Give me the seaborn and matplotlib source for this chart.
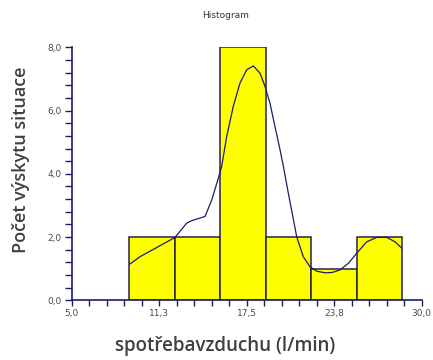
import matplotlib
matplotlib.use("Agg")
import matplotlib.pyplot as plt
from matplotlib.ticker import FixedLocator, MultipleLocator, FuncFormatter
import seaborn as sns
import pandas as pd

# Histogram bins (air consumption, l/min) and counts per bin
bin_edges = [9.1, 12.35, 15.6, 18.85, 22.1, 25.35, 28.6]
bin_counts = [2, 2, 8, 2, 1, 2]

# Smoothed frequency curve drawn over the bars
curve_x = [9.17, 9.88, 10.83, 12.38, 13.21, 13.57, 14.52, 15.0, 15.47, 15.71,
           16.07, 16.54, 17.02, 17.5, 17.97, 18.45, 18.81, 19.16, 19.52, 19.88,
           20.12, 20.47, 21.07, 21.54, 22.02, 22.5, 23.1, 23.6, 24.16, 24.76,
           25.36, 26.07, 26.79, 27.5, 28.09, 28.57]
curve_y = [1.15, 1.38, 1.61, 1.99, 2.44, 2.52, 2.65, 3.17, 3.86, 4.23,
           5.18, 6.13, 6.87, 7.29, 7.41, 7.18, 6.76, 6.23, 5.49, 4.76,
           4.23, 3.39, 2.01, 1.38, 1.06, 0.92, 0.87, 0.88, 0.96, 1.17,
           1.49, 1.85, 1.99, 1.99, 1.85, 1.65]

x_major = [5.0, 11.25, 17.5, 23.75, 30.0]
x_labels = ["5,0", "11,3", "17,5", "23,8", "30,0"]
y_major = [0.0, 2.0, 4.0, 6.0, 8.0]

navy = "#1c1c6a"
edge = "#23234a"

sns.set_style("white")
plt.rcParams["font.family"] = ["DejaVu Sans"]

fig = plt.figure(figsize=(4.33, 3.6), dpi=100)
ax = fig.add_axes([0.1656, 0.1658, 0.8084, 0.7028])

centers = [(a + b) / 2 for a, b in zip(bin_edges[:-1], bin_edges[1:])]
df = pd.DataFrame({"x": centers, "n": bin_counts})
sns.histplot(data=df, x="x", weights="n", bins=bin_edges, ax=ax,
             color="#ffff00", alpha=1.0, edgecolor=edge, linewidth=1.1)

curve = pd.DataFrame({"x": curve_x, "y": curve_y})
sns.lineplot(data=curve, x="x", y="y", sort=False, ax=ax,
             color=navy, linewidth=0.9)

ax.set_xlim(5, 30)
ax.set_ylim(0, 8)

ax.xaxis.set_major_locator(FixedLocator(x_major))
ax.set_xticklabels(x_labels)
ax.xaxis.set_minor_locator(MultipleLocator(1.25))
ax.yaxis.set_major_locator(FixedLocator(y_major))
ax.yaxis.set_minor_locator(MultipleLocator(0.4))
ax.yaxis.set_major_formatter(FuncFormatter(lambda v, p: f"{v:.1f}".replace(".", ",")))

ax.tick_params(axis="both", which="both", direction="out", width=1,
               color=navy, labelsize=6.5, labelcolor="#4a4a4a")
ax.tick_params(axis="x", which="both", length=4, pad=2)
ax.tick_params(axis="y", which="both", length=5, pad=2)
ax.tick_params(axis="both", which="both", bottom=True, left=True)

for side in ["top", "right"]:
    ax.spines[side].set_visible(False)
for side in ["left", "bottom"]:
    ax.spines[side].set_color(navy)
    ax.spines[side].set_linewidth(1.2)

ax.set_xlabel("")
ax.set_ylabel("")
fig.text(0.52, 0.958, "Histogram", ha="center", va="center",
         fontsize=6.5, color="#333333")
fig.text(0.52, 0.04, "spotřebavzduchu (l/min)", ha="center", va="center",
         fontsize=13.5, color="#404040", family=["Open Sans", "DejaVu Sans"],
         fontweight="semibold")
fig.text(0.048, 0.555, "Počet výskytu situace", ha="center", va="center",
         rotation=90, fontsize=13, color="#404040",
         family=["Open Sans", "DejaVu Sans"], fontweight="semibold")

fig.savefig("out.png", dpi=100)
